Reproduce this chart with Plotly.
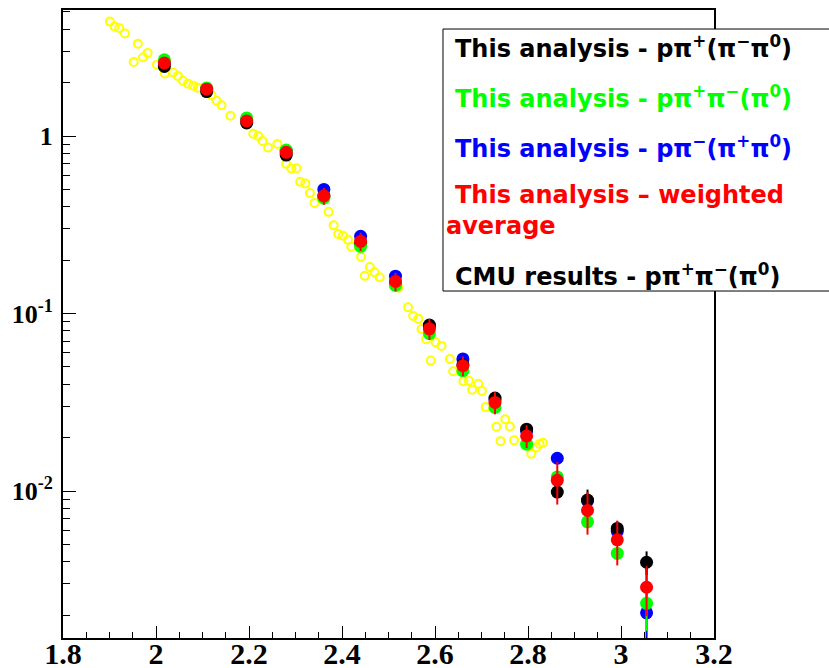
import plotly.graph_objects as go

# Bin centres (GeV) for this analysis
w_bins = [2.018, 2.109, 2.195, 2.280, 2.361, 2.440, 2.515, 2.588, 2.660,
          2.729, 2.797, 2.863, 2.928, 2.992, 3.055]

# p pi+ (pi- pi0) topology
xs_black = [2.464, 1.780, 1.184, 0.781, 0.458, 0.2486, 0.1477, 0.0861, 0.0515,
            0.0334, 0.02232, 0.00987, 0.00889, 0.00616, 0.00397]
err_black = [0.08, 0.06, 0.04, 0.025, 0.015, 0.008, 0.005, 0.003, 0.0018,
             0.0012, 0.0008, 0.0005, 0.0013, 0.0006, 0.0006]

# p pi+ pi- (pi0) topology
xs_green = [2.688, 1.867, 1.264, 0.834, 0.4464, 0.2390, 0.1439, 0.0771, 0.0476,
            0.02956, 0.01836, 0.0120, 0.00671, 0.00445, 0.00233]
err_green = [0.08, 0.06, 0.04, 0.025, 0.015, 0.008, 0.005, 0.003, 0.0018,
             0.0012, 0.0008, 0.0006, 0.0004, 0.0003, 0.0007]

# p pi- (pi+ pi0) topology
xs_blue = [2.58, 1.84, 1.23, 0.823, 0.4999, 0.2723, 0.1624, 0.0846, 0.0555,
           0.0327, 0.0218, 0.01530, 0.0088, 0.00594, 0.00206]
err_blue = [0.08, 0.06, 0.04, 0.025, 0.015, 0.008, 0.005, 0.003, 0.0018,
            0.0012, 0.0008, 0.0006, 0.0005, 0.0004, 0.0019]

# weighted average of the three topologies
xs_red = [2.575, 1.836, 1.215, 0.809, 0.460, 0.255, 0.1516, 0.0820, 0.0508,
          0.03155, 0.02045, 0.01149, 0.00778, 0.00531, 0.00287]
err_red = [0.15, 0.10, 0.07, 0.06, 0.05, 0.03, 0.018, 0.011, 0.0065,
           0.0045, 0.003, 0.0031, 0.0021, 0.0015, 0.0009]

# CMU results, p pi+ pi- (pi0)
cmu_w = [1.901, 1.911, 1.921, 1.933, 1.961, 1.952, 1.972, 1.982, 2.002, 2.019,
         2.037, 2.047, 2.058, 2.069, 2.080, 2.090, 2.119, 2.130, 2.141, 2.160,
         2.209, 2.220, 2.229, 2.241, 2.261, 2.280, 2.291, 2.302, 2.310, 2.321,
         2.331, 2.341, 2.371, 2.382, 2.392, 2.402, 2.413, 2.420, 2.441, 2.460,
         2.449, 2.470, 2.481, 2.521, 2.542, 2.553, 2.564, 2.571, 2.581, 2.601,
         2.614, 2.591, 2.632, 2.639, 2.661, 2.673, 2.693, 2.680, 2.701, 2.709,
         2.732, 2.751, 2.761, 2.741, 2.770, 2.807, 2.818, 2.825, 2.832]
cmu_xs = [4.42, 4.14, 4.06, 3.78, 3.31, 2.61, 2.78, 2.94, 2.52, 2.25,
          2.28, 2.18, 2.05, 1.97, 1.92, 1.87, 1.70, 1.58, 1.49, 1.30,
          1.03, 1.00, 0.937, 0.861, 0.901, 0.699, 0.657, 0.659, 0.552, 0.541,
          0.478, 0.420, 0.374, 0.314, 0.281, 0.274, 0.260, 0.238, 0.209, 0.183,
          0.163, 0.171, 0.160, 0.140, 0.1085, 0.0968, 0.0933, 0.0819, 0.0716, 0.0689,
          0.0657, 0.0543, 0.0555, 0.0473, 0.0416, 0.0418, 0.0402, 0.0372, 0.0366, 0.0297,
          0.0230, 0.0254, 0.0231, 0.0191, 0.0193, 0.0162, 0.0176, 0.0184, 0.0187]

# axis ticks
x_major = [1.8, 2.0, 2.2, 2.4, 2.6, 2.8, 3.0, 3.2]
x_labels = ["1.8", "2", "2.2", "2.4", "2.6", "2.8", "3", "3.2"]
y_major = [0.01, 0.1, 1]
y_labels = ["10<sup>-2</sup>", "10<sup>-1</sup>", "1"]
y_minor = [0.002, 0.003, 0.004, 0.005, 0.006, 0.007, 0.008, 0.009,
           0.02, 0.03, 0.04, 0.05, 0.06, 0.07, 0.08, 0.09,
           0.2, 0.3, 0.4, 0.5, 0.6, 0.7, 0.8, 0.9,
           2, 3, 4, 5]

legend_lines = [
    ("This analysis - p\u03c0<sup>+</sup>(\u03c0<sup>\u2212</sup>\u03c0<sup>0</sup>)", "#000000"),
    ("This analysis - p\u03c0<sup>+</sup>\u03c0<sup>\u2212</sup>(\u03c0<sup>0</sup>)", "#00ff00"),
    ("This analysis - p\u03c0<sup>\u2212</sup>(\u03c0<sup>+</sup>\u03c0<sup>0</sup>)", "#0000ff"),
    ("This analysis \u2013 weighted", "#ff0000"),
    ("average", "#ff0000"),
    ("CMU results - p\u03c0<sup>+</sup>\u03c0<sup>\u2212</sup>(\u03c0<sup>0</sup>)", "#000000"),
]
legend_x = [0.599, 0.599, 0.599, 0.599, 0.5853, 0.599]
legend_y = [0.9416, 0.862, 0.7823, 0.7054, 0.656, 0.578]

fig = go.Figure()

fig.add_trace(go.Scatter(
    x=cmu_w, y=cmu_xs, mode="markers",
    marker=dict(symbol="circle-open", size=8, color="#ffff00",
                line=dict(color="#ffff00", width=2)),
    showlegend=False))


def topology(xv, yv, ev, color):
    return go.Scatter(
        x=xv, y=yv, mode="markers",
        marker=dict(symbol="circle", size=13, color=color, line=dict(width=0)),
        error_y=dict(type="data", array=ev, visible=True, color=color,
                     thickness=2, width=0),
        showlegend=False)


fig.add_trace(topology(w_bins, xs_blue, err_blue, "#0000ff"))
fig.add_trace(topology(w_bins, xs_black, err_black, "#000000"))
fig.add_trace(topology(w_bins, xs_green, err_green, "#00ff00"))
fig.add_trace(topology(w_bins, xs_red, err_red, "#ff0000"))

# legend box (runs off the right edge of the page)
fig.add_shape(type="rect", xref="paper", yref="paper",
              x0=0.5837, x1=1.4, y0=0.5525, y1=0.9697,
              fillcolor="white", line=dict(color="black", width=1),
              layer="above")

for (txt, col), lx, ly in zip(legend_lines, legend_x, legend_y):
    fig.add_annotation(xref="paper", yref="paper", x=lx, y=ly,
                       xanchor="left", yanchor="middle", showarrow=False,
                       text="<b>" + txt + "</b>",
                       font=dict(family="DejaVu Sans", size=24, color=col))

fig.update_layout(
    width=829, height=668,
    margin=dict(l=63, r=115, t=10, b=30),
    paper_bgcolor="white", plot_bgcolor="white",
    showlegend=False,
)

fig.update_xaxes(
    range=[1.8, 3.2], showgrid=False, zeroline=False, automargin=False,
    showline=True, linecolor="black", linewidth=2, mirror=True,
    tickmode="array", tickvals=x_major, ticktext=x_labels,
    ticks="inside", ticklen=12, tickwidth=1, tickcolor="black",
    minor=dict(dtick=0.05, tick0=1.8, ticks="inside", ticklen=6,
               tickwidth=1, tickcolor="black"),
    tickfont=dict(family="Liberation Serif", size=30, color="black", weight="bold"),
    ticklabelstandoff=-12,
)

fig.update_yaxes(
    type="log", range=[-2.828, 0.71], showgrid=False, zeroline=False,
    automargin=False,
    showline=True, linecolor="black", linewidth=2, mirror=True,
    tickmode="array", tickvals=y_major, ticktext=y_labels,
    ticks="inside", ticklen=13, tickwidth=1, tickcolor="black",
    minor=dict(tickmode="array", tickvals=y_minor, ticks="inside", ticklen=7,
               tickwidth=1, tickcolor="black"),
    tickfont=dict(family="Liberation Serif", size=26, color="black", weight="bold"),
    ticklabelstandoff=3,
)

fig.write_html("out.html")
